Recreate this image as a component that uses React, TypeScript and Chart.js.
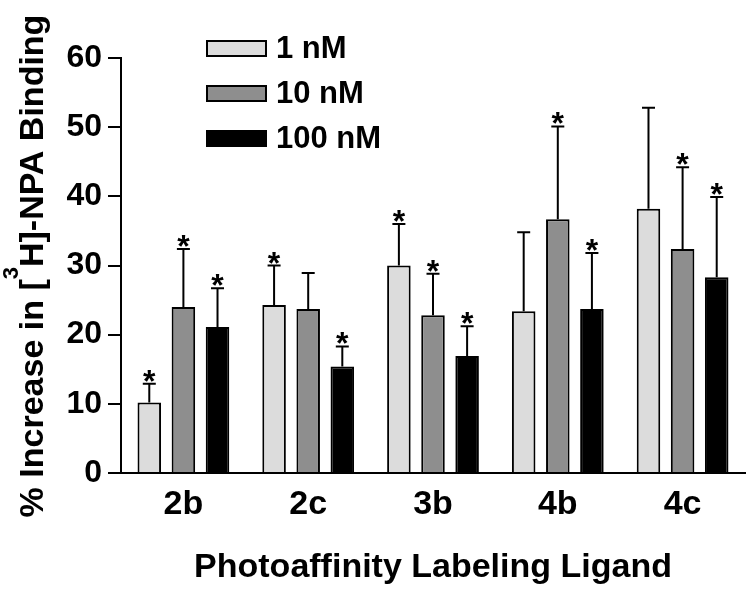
import React, { useEffect, useRef } from "react";
import { Chart, registerables } from "chart.js";

Chart.register(...registerables);

const categories = ["2b", "2c", "3b", "4b", "4c"];
const seriesLabels = ["1 nM", "10 nM", "100 nM"];
const seriesColors = ["#dcdcdc", "#8e8e8e", "#000000"];

const values1nM = [10.2, 24.3, 30.0, 23.4, 38.2];
const values10nM = [24.0, 23.7, 22.8, 36.7, 32.4];
const values100nM = [21.1, 15.4, 16.9, 23.7, 28.3];

const sem1nM = [2.7, 5.7, 6.0, 11.4, 14.6];
const sem10nM = [8.4, 5.2, 6.0, 13.4, 11.8];
const sem100nM = [5.6, 2.9, 4.3, 8.1, 11.6];

const sig1nM = [true, true, true, false, false];
const sig10nM = [true, false, true, true, true];
const sig100nM = [true, true, true, true, true];

const yTicks = [0, 10, 20, 30, 40, 50, 60];

const FONT = "'Liberation Sans', Arial, Helvetica, sans-serif";

const errorBarPlugin = {
  id: "errorBars",
  afterDatasetsDraw(chart: any) {
    const ctx = chart.ctx;
    const yScale = chart.scales.y;
    chart.data.datasets.forEach((ds: any, di: number) => {
      const meta = chart.getDatasetMeta(di);
      meta.data.forEach((el: any, i: number) => {
        const v = ds.data[i];
        const e = ds.errors[i];
        const yTop = yScale.getPixelForValue(v + e);
        ctx.save();
        ctx.strokeStyle = "#000";
        ctx.lineWidth = 2;
        ctx.beginPath();
        ctx.moveTo(el.x, el.y);
        ctx.lineTo(el.x, yTop);
        ctx.moveTo(el.x - 6.5, yTop);
        ctx.lineTo(el.x + 6.5, yTop);
        ctx.stroke();
        if (ds.significant[i]) {
          ctx.fillStyle = "#000";
          ctx.font = `bold 32px ${FONT}`;
          ctx.textAlign = "center";
          ctx.textBaseline = "alphabetic";
          ctx.fillText("*", el.x, yTop + 8);
        }
        ctx.restore();
      });
    });
  },
};

const legendPlugin = {
  id: "customLegend",
  afterDraw(chart: any) {
    const ctx = chart.ctx;
    const x0 = 206;
    const y0 = 40;
    const step = 45;
    const bw = 61;
    const bh = 17;
    chart.data.datasets.forEach((ds: any, i: number) => {
      const y = y0 + i * step;
      ctx.save();
      ctx.fillStyle = ds.backgroundColor;
      ctx.fillRect(x0, y, bw, bh);
      ctx.strokeStyle = "#000";
      ctx.lineWidth = 2;
      ctx.strokeRect(x0 + 1, y + 1, bw - 2, bh - 2);
      ctx.fillStyle = "#000";
      ctx.font = `bold 31px ${FONT}`;
      ctx.textAlign = "left";
      ctx.textBaseline = "middle";
      ctx.fillText(ds.label, x0 + bw + 9, y + bh / 2 + 1);
      ctx.restore();
    });
  },
};

const yTitlePlugin = {
  id: "yTitle",
  afterDraw(chart: any) {
    const ctx = chart.ctx;
    const main = 34;
    const sup = 22;
    const parts = [
      { t: "% Increase in [", s: main, dy: 0 },
      { t: "3", s: sup, dy: -25 },
      { t: "H]-NPA Binding", s: main, dy: 0 },
    ];
    ctx.save();
    let total = 0;
    const widths = parts.map((p) => {
      ctx.font = `bold ${p.s}px ${FONT}`;
      const w = ctx.measureText(p.t).width;
      total += w;
      return w;
    });
    ctx.translate(43, 266);
    ctx.rotate(-Math.PI / 2);
    ctx.fillStyle = "#000";
    ctx.textAlign = "left";
    ctx.textBaseline = "alphabetic";
    let x = -total / 2;
    parts.forEach((p, i) => {
      ctx.font = `bold ${p.s}px ${FONT}`;
      ctx.fillText(p.t, x, p.dy);
      x += widths[i];
    });
    ctx.restore();
  },
};

export default function App() {
  const ref = useRef<HTMLCanvasElement | null>(null);

  useEffect(() => {
    if (!ref.current) return;
    const values = [values1nM, values10nM, values100nM];
    const sems = [sem1nM, sem10nM, sem100nM];
    const sigs = [sig1nM, sig10nM, sig100nM];
    const chart = new Chart(ref.current, {
      type: "bar",
      data: {
        labels: categories,
        datasets: seriesLabels.map((label, i) => ({
          label,
          data: values[i],
          errors: sems[i],
          significant: sigs[i],
          backgroundColor: seriesColors[i],
          borderColor: "#000",
          borderWidth: 2,
          borderSkipped: "start",
          categoryPercentage: 0.82,
          barPercentage: 0.69,
        })) as any,
      },
      options: {
        animation: false,
        responsive: false,
        layout: { padding: { top: 58, right: 5, left: 0, bottom: 0 } },
        plugins: {
          legend: { display: false },
          tooltip: { enabled: false },
        },
        scales: {
          x: {
            grid: { display: false, drawTicks: false },
            border: { display: true, color: "#000", width: 2 },
            ticks: {
              color: "#000",
              padding: 11,
              font: { family: FONT, size: 34, weight: "bold" },
            },
            title: {
              display: true,
              text: "Photoaffinity Labeling Ligand",
              color: "#000",
              font: { family: FONT, size: 34, weight: "bold" },
              padding: { top: 0, bottom: 2 },
            },
            afterFit(scale: any) {
              scale.height = 117;
            },
          },
          y: {
            min: 0,
            max: 60,
            afterBuildTicks(scale: any) {
              scale.ticks = yTicks.map((v) => ({ value: v }));
            },
            grid: {
              display: true,
              drawOnChartArea: false,
              drawTicks: true,
              tickLength: 13,
              color: "#000",
              lineWidth: 2,
            },
            border: { display: true, color: "#000", width: 2 },
            ticks: {
              color: "#000",
              padding: 6,
              font: { family: FONT, size: 32, weight: "bold" },
            },
            afterFit(scale: any) {
              scale.width = 121;
            },
          },
        },
      } as any,
      plugins: [errorBarPlugin, legendPlugin, yTitlePlugin],
    });
    return () => chart.destroy();
  }, []);

  return (
    <div style={{ position: "absolute", left: 0, top: 0, width: 750, height: 590, background: "#fff" }}>
      <canvas ref={ref} width={750} height={590} />
    </div>
  );
}
